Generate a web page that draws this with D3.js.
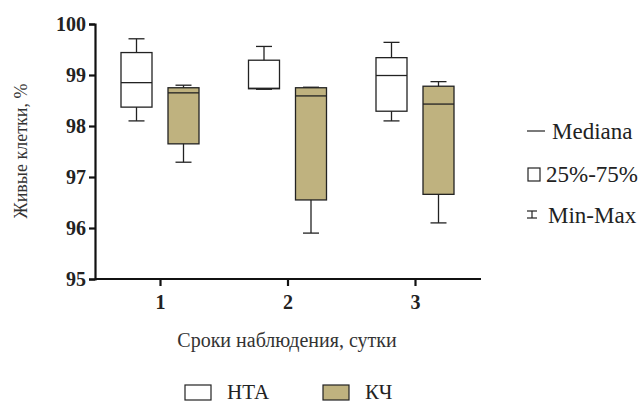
<!DOCTYPE html>
<html>
<head>
<meta charset="utf-8">
<script src="https://cdn.jsdelivr.net/npm/d3@7"></script>
<style>
  body { margin: 0; background: #fff; }
</style>
</head>
<body>
<script>
// days of observation
let days = ["1", "2", "3"];
let groups = ["НТА", "КЧ"];
let groupColors = ["#ffffff", "#bfb27f"];

// min, q1, median, q3, max for each day
let ntaMin = [98.10, 98.72, 98.10];
let ntaQ1 = [98.37, 98.73, 98.29];
let ntaMed = [98.85, 98.74, 98.99];
let ntaQ3 = [99.44, 99.29, 99.34];
let ntaMax = [99.71, 99.56, 99.64];

let kchMin = [97.29, 95.90, 96.10];
let kchQ1 = [97.65, 96.55, 96.66];
let kchMed = [98.65, 98.59, 98.43];
let kchQ3 = [98.75, 98.75, 98.78];
let kchMax = [98.80, 98.76, 98.87];

let yTicks = [95, 96, 97, 98, 99, 100];

let w = 644;
let h = 403;
let font = "Liberation Serif";

let boxes = [];
days.forEach(function(d, i) {
  boxes.push({day: d, g: 0, min: ntaMin[i], q1: ntaQ1[i], med: ntaMed[i], q3: ntaQ3[i], max: ntaMax[i]});
  boxes.push({day: d, g: 1, min: kchMin[i], q1: kchQ1[i], med: kchMed[i], q3: kchQ3[i], max: kchMax[i]});
});

const svg = d3.select("body")
  .append("svg")
  .attr("width", w)
  .attr("height", h);

let y = d3.scaleLinear().domain([95, 100]).range([279, 24]);
let x = d3.scalePoint().domain(days).range([160, 415]);
let off = d3.scalePoint().domain(groups).range([-23.5, 23.5]);
let boxW = 31;
let capW = 16;

// boxes
let bg = svg.selectAll("g.box")
  .data(boxes)
  .enter()
  .append("g")
  .attr("class", "box")
  .attr("transform", function(d) { return "translate(" + (x(d.day) + off(groups[d.g])) + ",0)"; });

bg.append("line")
  .attr("x1", 0).attr("x2", 0)
  .attr("y1", function(d) { return y(d.max); })
  .attr("y2", function(d) { return y(d.min); })
  .attr("stroke", "#222").attr("stroke-width", 1.3);

bg.append("line")
  .attr("x1", -capW / 2).attr("x2", capW / 2)
  .attr("y1", function(d) { return y(d.max); })
  .attr("y2", function(d) { return y(d.max); })
  .attr("stroke", "#222").attr("stroke-width", 1.3);

bg.append("line")
  .attr("x1", -capW / 2).attr("x2", capW / 2)
  .attr("y1", function(d) { return y(d.min); })
  .attr("y2", function(d) { return y(d.min); })
  .attr("stroke", "#222").attr("stroke-width", 1.3);

bg.append("rect")
  .attr("x", -boxW / 2)
  .attr("width", boxW)
  .attr("y", function(d) { return y(d.q3); })
  .attr("height", function(d) { return y(d.q1) - y(d.q3); })
  .attr("fill", function(d) { return groupColors[d.g]; })
  .attr("stroke", "#222").attr("stroke-width", 1.3);

bg.append("line")
  .attr("x1", -boxW / 2).attr("x2", boxW / 2)
  .attr("y1", function(d) { return y(d.med); })
  .attr("y2", function(d) { return y(d.med); })
  .attr("stroke", "#222").attr("stroke-width", 1.3);

// axes
let yAxis = svg.append("g")
  .attr("transform", "translate(95,0)")
  .call(d3.axisLeft(y).tickValues(yTicks).tickFormat(d3.format("d")).tickSize(6).tickPadding(3));

let xAxis = svg.append("g")
  .attr("transform", "translate(0,279)")
  .call(d3.axisBottom(x).tickSize(7).tickPadding(9));

xAxis.select(".domain").attr("d", "M95,0H481");

[yAxis, xAxis].forEach(function(a) {
  a.attr("font-family", font).attr("font-size", 20).attr("font-weight", "bold");
  a.selectAll("path, line").attr("stroke", "#111").attr("stroke-width", 2.2);
  a.selectAll("text").attr("fill", "#222");
});

// axis titles
svg.append("text")
  .attr("transform", "translate(27,151) rotate(-90)")
  .attr("text-anchor", "middle")
  .attr("fill", "#333")
  .attr("font-family", font)
  .attr("font-size", 18)
  .text("Живые клетки, %");

svg.append("text")
  .attr("x", 287)
  .attr("y", 347)
  .attr("text-anchor", "middle")
  .attr("fill", "#333")
  .attr("font-family", font)
  .attr("font-size", 20)
  .text("Сроки  наблюдения, сутки");

// right legend
let lg = svg.append("g").attr("fill", "#222").attr("font-family", font).attr("font-size", 23);
lg.append("line").attr("x1", 527).attr("x2", 545).attr("y1", 131).attr("y2", 131)
  .attr("stroke", "#222").attr("stroke-width", 1.2);
lg.append("text").attr("x", 552).attr("y", 139).text("Mediana");

lg.append("rect").attr("x", 528).attr("y", 168).attr("width", 12).attr("height", 13)
  .attr("fill", "#fff").attr("stroke", "#222").attr("stroke-width", 1.2);
lg.append("text").attr("x", 546).attr("y", 182).text("25%-75%");

lg.append("line").attr("x1", 527).attr("x2", 537).attr("y1", 211).attr("y2", 211)
  .attr("stroke", "#222").attr("stroke-width", 1.2);
lg.append("line").attr("x1", 527).attr("x2", 537).attr("y1", 218).attr("y2", 218)
  .attr("stroke", "#222").attr("stroke-width", 1.2);
lg.append("line").attr("x1", 532).attr("x2", 532).attr("y1", 211).attr("y2", 218)
  .attr("stroke", "#222").attr("stroke-width", 1.2);
lg.append("text").attr("x", 548).attr("y", 223).text("Min-Max");

// bottom legend
let bl = svg.selectAll("g.bleg")
  .data(groups)
  .enter()
  .append("g")
  .attr("class", "bleg")
  .attr("transform", function(d, i) { return "translate(" + (185 + i * 138) + ",385)"; });

bl.append("rect")
  .attr("width", 26).attr("height", 15)
  .attr("fill", function(d, i) { return groupColors[i]; })
  .attr("stroke", "#222").attr("stroke-width", 1.2);

bl.append("text")
  .attr("x", 42).attr("y", 14)
  .attr("fill", "#222")
  .attr("font-family", font)
  .attr("font-size", 21)
  .text(function(d) { return d; });
</script>
</body>
</html>
